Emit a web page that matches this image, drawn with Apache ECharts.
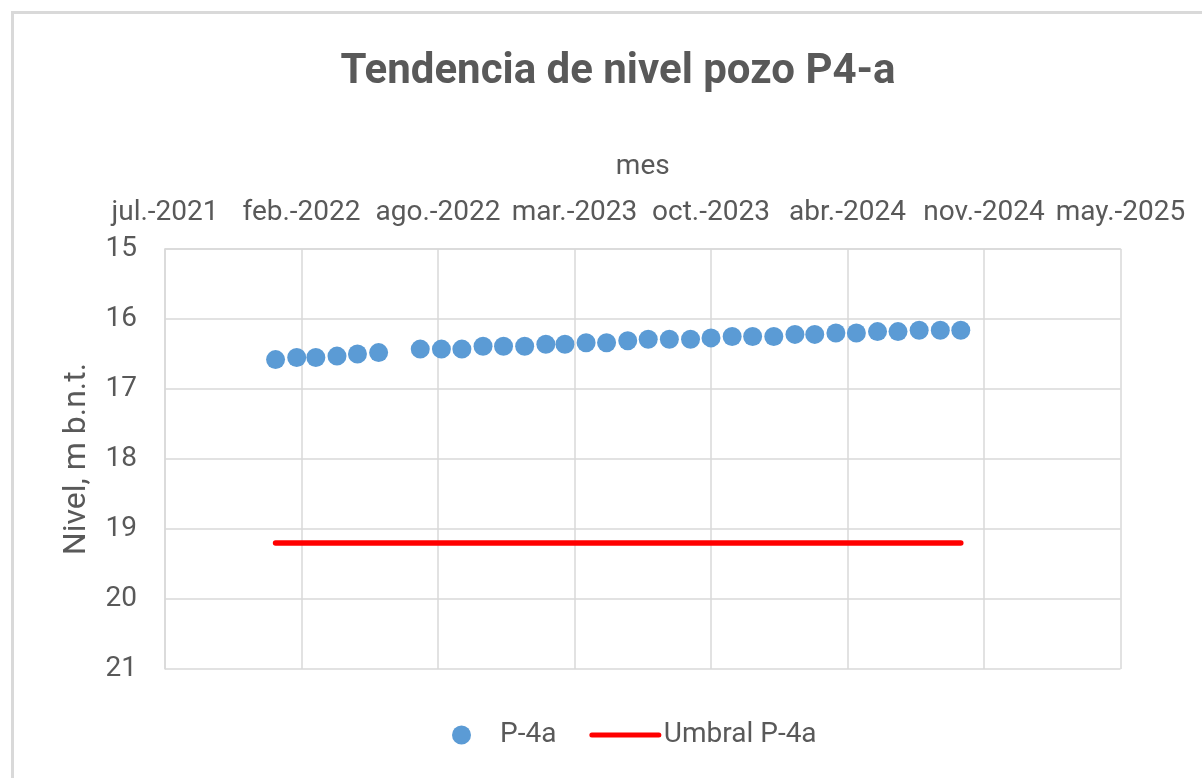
<!DOCTYPE html>
<html>
<head>
<meta charset="utf-8">
<script src="https://cdn.jsdelivr.net/npm/echarts@6/dist/echarts.min.js"></script>
<style>
  html, body { margin: 0; padding: 0; background: #fff; }
  #chart { width: 1202px; height: 778px; }
</style>
</head>
<body>
<div id="chart"></div>
<script>
// fechas de medición (día 1 de cada mes) y nivel en m b.n.t.
const fechas = [
  '2022-01-01', '2022-02-01', '2022-03-01', '2022-04-01', '2022-05-01', '2022-06-01',
  '2022-08-01', '2022-09-01', '2022-10-01', '2022-11-01', '2022-12-01',
  '2023-01-01', '2023-02-01', '2023-03-01', '2023-04-01', '2023-05-01', '2023-06-01',
  '2023-07-01', '2023-08-01', '2023-09-01', '2023-10-01', '2023-11-01', '2023-12-01',
  '2024-01-01', '2024-02-01', '2024-03-01', '2024-04-01', '2024-05-01', '2024-06-01',
  '2024-07-01', '2024-08-01', '2024-09-01', '2024-10-01'
]
const nivel = [
  16.58, 16.55, 16.55, 16.53, 16.50, 16.48,
  16.43, 16.43, 16.43, 16.39, 16.39,
  16.39, 16.36, 16.36, 16.34, 16.34, 16.31,
  16.29, 16.29, 16.29, 16.27, 16.25, 16.25,
  16.25, 16.22, 16.22, 16.20, 16.20, 16.18,
  16.18, 16.16, 16.16, 16.16
]

// umbral
const fechasUmbral = ['2022-01-01', '2024-10-01']
const umbral = [19.2, 19.2]

// eje x en fecha serial (días), como en la planilla
const xMin = 44400
const xMax = 45800
const xPaso = 200
const etiquetasX = ['jul.-2021', 'feb.-2022', 'ago.-2022', 'mar.-2023', 'oct.-2023', 'abr.-2024', 'nov.-2024', 'may.-2025']

const yMin = 15
const yMax = 21

const serial = (s) => {
  const [a, m, d] = s.split('-').map(Number)
  return Math.round((Date.UTC(a, m - 1, d) - Date.UTC(1899, 11, 30)) / 86400000)
}

const FONT = 'Roboto, "Open Sans", sans-serif'
const GRIS = '#595959'
const LINEA = '#d9d9d9'

const chart = echarts.init(document.getElementById('chart'), null, { renderer: 'canvas' })

chart.setOption({
  backgroundColor: '#fff',
  animation: false,
  textStyle: { fontFamily: FONT },
  graphic: [{
    type: 'rect',
    shape: { x: 12.5, y: 12.5, width: 1400, height: 1000 },
    style: { fill: 'none', stroke: LINEA, lineWidth: 3 },
    silent: true
  }],
  title: {
    text: 'Tendencia de nivel pozo P4-a',
    left: 618,
    top: 51,
    padding: 0,
    textAlign: 'center',
    textStyle: { fontFamily: FONT, fontSize: 42, fontWeight: 'bold', color: GRIS }
  },
  grid: {
    left: 165,
    right: 81.5,
    top: 249,
    bottom: 109,
    containLabel: false,
    outerBoundsMode: 'none'
  },
  legend: {
    left: 447,
    top: 716,
    itemWidth: 67,
    itemHeight: 19,
    itemGap: 33,
    textStyle: { fontFamily: FONT, fontSize: 28, color: GRIS },
    data: [
      { name: 'P-4a', icon: 'circle' },
      { name: 'Umbral P-4a', itemStyle: { opacity: 0 }, lineStyle: { width: 5, cap: 'round' } }
    ]
  },
  xAxis: {
    type: 'value',
    position: 'top',
    min: xMin,
    max: xMax,
    interval: xPaso,
    name: 'mes',
    nameLocation: 'middle',
    nameGap: 68,
    nameTextStyle: { fontFamily: FONT, fontSize: 28, color: GRIS },
    axisLine: { show: true, lineStyle: { color: LINEA, width: 1.5 } },
    axisTick: { show: false },
    axisLabel: {
      margin: 22,
      fontFamily: FONT,
      fontSize: 28,
      color: GRIS,
      formatter: (v) => etiquetasX[Math.round((v - xMin) / xPaso)] || ''
    },
    splitLine: { show: true, lineStyle: { color: LINEA, width: 1.5 } }
  },
  yAxis: {
    type: 'value',
    inverse: true,
    min: yMin,
    max: yMax,
    interval: 1,
    name: 'Nivel, m b.n.t.',
    nameLocation: 'middle',
    nameGap: 72,
    nameTextStyle: { fontFamily: FONT, fontSize: 32, color: GRIS },
    axisLine: { show: true, lineStyle: { color: LINEA, width: 1.5 } },
    axisTick: { show: false },
    axisLabel: { margin: 28, fontFamily: FONT, fontSize: 28, color: GRIS },
    splitLine: { show: true, lineStyle: { color: LINEA, width: 1.5 } }
  },
  series: [
    {
      name: 'P-4a',
      type: 'scatter',
      symbol: 'circle',
      symbolSize: 19,
      itemStyle: { color: '#5b9bd5', opacity: 1 },
      data: fechas.map((f, i) => [serial(f), nivel[i]])
    },
    {
      name: 'Umbral P-4a',
      type: 'line',
      symbol: 'none',
      lineStyle: { color: '#ff0000', width: 5.5, cap: 'round' },
      itemStyle: { color: '#ff0000' },
      data: fechasUmbral.map((f, i) => [serial(f), umbral[i]])
    }
  ]
})
</script>
</body>
</html>
